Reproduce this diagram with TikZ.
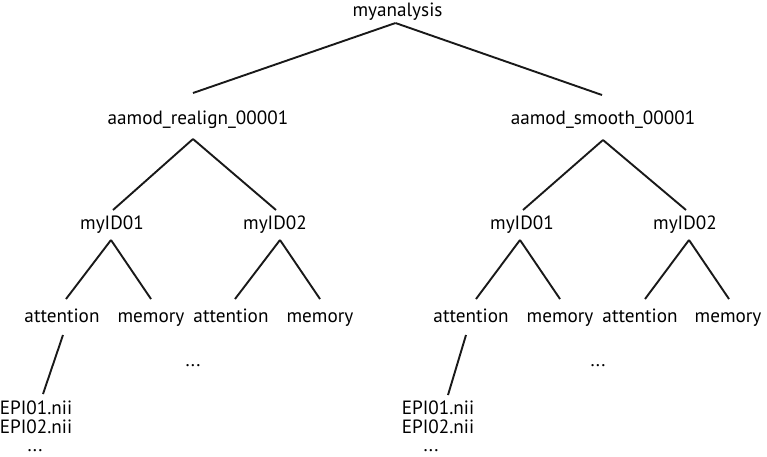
\documentclass[tikz,border=0pt]{standalone}
\usepackage{fontspec}
\setmainfont{PT Sans}
\begin{document}
\begin{tikzpicture}[x=1pt,y=-1pt,
  lbl/.style={anchor=base,inner sep=0pt,font=\fontsize{19.2}{20}\selectfont},
  edge/.style={line width=1.9pt,black!90}]
\useasboundingbox (0,0) rectangle (767,456);
% nodes
\node[lbl] (root) at (397.5,16) {myanalysis};
\node[lbl] (R) at (198,124) {aamod\_realign\_00001};
\node[lbl] (S) at (603,124) {aamod\_smooth\_00001};
\node[lbl] (R1) at (112,229) {myID01};
\node[lbl] (R2) at (275,229) {myID02};
\node[lbl] (S1) at (522,229) {myID01};
\node[lbl] (S2) at (685,229) {myID02};
\node[lbl] (R1a) at (62,322) {attention};
\node[lbl] (R1m) at (151,322) {memory};
\node[lbl] (R2a) at (231,322) {attention};
\node[lbl] (R2m) at (320,322) {memory};
\node[lbl] (S1a) at (471,322) {attention};
\node[lbl] (S1m) at (560,322) {memory};
\node[lbl] (S2a) at (640,322) {attention};
\node[lbl] (S2m) at (728,322) {memory};
\node[lbl] (Rdots) at (193,366) {...};
\node[lbl] (Sdots) at (598,366) {...};
\node[lbl] (RE1) at (36,414) {EPI01.nii};
\node[lbl] (RE2) at (36,433) {EPI02.nii};
\node[lbl] (REd) at (35,451) {...};
\node[lbl] (SE1) at (438,414) {EPI01.nii};
\node[lbl] (SE2) at (438,433) {EPI02.nii};
\node[lbl] (SEd) at (431,451) {...};
% edges
\draw[edge] ([shift={(-2,7)}]root.base) -- ([shift={(-5,-31)}]R.base);
\draw[edge] ([shift={(-2,7)}]root.base) -- ([shift={(-1,-29)}]S.base);
\draw[edge] ([shift={(-5,15)}]R.base) -- ([shift={(1,-19)}]R1.base);
\draw[edge] ([shift={(-5,15)}]R.base) -- ([shift={(1,-19)}]R2.base);
\draw[edge] ([shift={(0,16)}]S.base) -- ([shift={(1,-19)}]S1.base);
\draw[edge] ([shift={(0,16)}]S.base) -- ([shift={(1,-19)}]S2.base);
\draw[edge] ([shift={(-1,11)}]R1.base) -- ([shift={(4,-23)}]R1a.base);
\draw[edge] ([shift={(-1,11)}]R1.base) -- ([shift={(0,-23)}]R1m.base);
\draw[edge] ([shift={(5,11)}]R2.base) -- ([shift={(4,-23)}]R2a.base);
\draw[edge] ([shift={(5,11)}]R2.base) -- ([shift={(0,-23)}]R2m.base);
\draw[edge] ([shift={(-2,11)}]S1.base) -- ([shift={(5,-23)}]S1a.base);
\draw[edge] ([shift={(-2,11)}]S1.base) -- ([shift={(0,-23)}]S1m.base);
\draw[edge] ([shift={(4,11)}]S2.base) -- ([shift={(5,-23)}]S2a.base);
\draw[edge] ([shift={(4,11)}]S2.base) -- ([shift={(1,-23)}]S2m.base);
\draw[edge] ([shift={(1,13)}]R1a.base) -- ([shift={(7,-20)}]RE1.base);
\draw[edge] ([shift={(-5,13)}]S1a.base) -- ([shift={(10,-19)}]SE1.base);
\end{tikzpicture}
\end{document}
